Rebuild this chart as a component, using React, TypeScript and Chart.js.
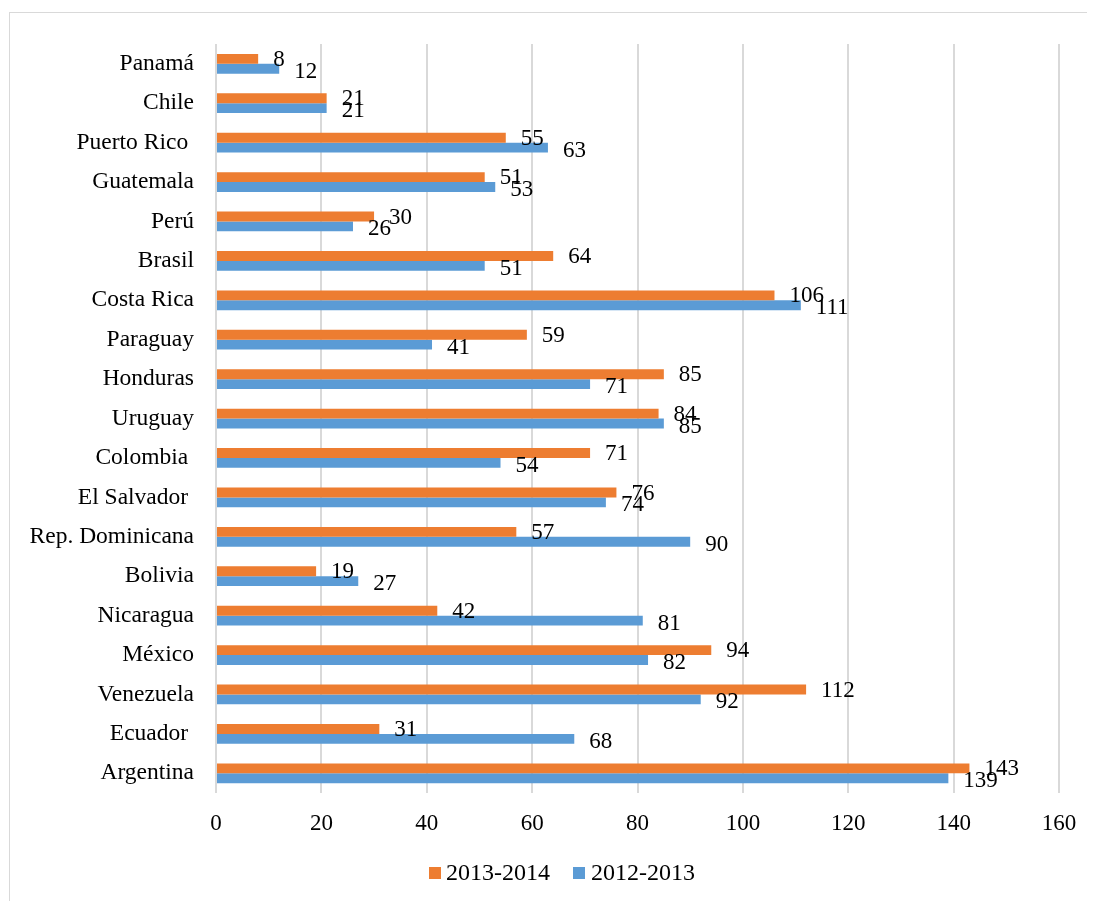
import React, { useEffect, useRef } from "react";
import { Chart, registerables } from "chart.js";

Chart.register(...registerables);

// Countries, top to bottom
const countries = [
  "Panamá",
  "Chile",
  "Puerto Rico ",
  "Guatemala",
  "Perú",
  "Brasil",
  "Costa Rica",
  "Paraguay",
  "Honduras",
  "Uruguay",
  "Colombia ",
  "El Salvador ",
  "Rep. Dominicana",
  "Bolivia",
  "Nicaragua",
  "México",
  "Venezuela",
  "Ecuador ",
  "Argentina",
];

const values2013_2014 = [8, 21, 55, 51, 30, 64, 106, 59, 85, 84, 71, 76, 57, 19, 42, 94, 112, 31, 143];
const values2012_2013 = [12, 21, 63, 53, 26, 51, 111, 41, 71, 85, 54, 74, 90, 27, 81, 82, 92, 68, 139];

const seriesNames = ["2013-2014", "2012-2013"];
const seriesColors = ["#ED7D31", "#5B9BD5"];

const xTicks = [0, 20, 40, 60, 80, 100, 120, 140, 160];

const FONT = '"Liberation Serif", "Times New Roman", serif';

// Writes each bar's value just past its end
const valueLabels = {
  id: "valueLabels",
  afterDatasetsDraw(chart: any) {
    const ctx = chart.ctx;
    ctx.save();
    ctx.font = `23px ${FONT}`;
    ctx.fillStyle = "#000";
    ctx.textAlign = "left";
    ctx.textBaseline = "middle";
    chart.data.datasets.forEach((ds: any, di: number) => {
      const meta = chart.getDatasetMeta(di);
      meta.data.forEach((bar: any, i: number) => {
        const dy = di === 0 ? 1 : 3;
        ctx.fillText(String(ds.data[i]), bar.x + 15, bar.y + dy);
      });
    });
    ctx.restore();
  },
};

export default function App() {
  const canvasRef = useRef<HTMLCanvasElement | null>(null);

  useEffect(() => {
    if (!canvasRef.current) return;
    const chart = new Chart(canvasRef.current, {
      type: "bar",
      data: {
        labels: countries,
        datasets: [
          {
            label: seriesNames[0],
            data: values2013_2014,
            backgroundColor: seriesColors[0],
            categoryPercentage: 0.5,
            barPercentage: 1.0,
          },
          {
            label: seriesNames[1],
            data: values2012_2013,
            backgroundColor: seriesColors[1],
            categoryPercentage: 0.5,
            barPercentage: 1.0,
          },
        ],
      },
      options: {
        indexAxis: "y",
        animation: false,
        responsive: false,
        maintainAspectRatio: false,
        layout: { padding: { left: 0, right: 36, top: 33, bottom: 58 } },
        plugins: {
          legend: { display: false },
          tooltip: { enabled: false },
        },
        scales: {
          x: {
            type: "linear",
            min: 0,
            max: 160,
            afterBuildTicks: (scale: any) => {
              scale.ticks = xTicks.map((v) => ({ value: v }));
            },
            afterFit: (scale: any) => {
              scale.height = 50;
            },
            grid: { color: "#d9d9d9", lineWidth: 2, drawTicks: false },
            border: { display: false },
            ticks: {
              color: "#000",
              padding: 17,
              font: { family: FONT, size: 23 },
            },
          },
          y: {
            type: "category",
            afterFit: (scale: any) => {
              scale.width = 208;
            },
            grid: { display: false, drawTicks: false },
            border: { display: false },
            ticks: {
              color: "#000",
              padding: 22,
              autoSkip: false,
              font: { family: FONT, size: 23.5 },
            },
          },
        },
      },
      plugins: [valueLabels],
    });
    return () => chart.destroy();
  }, []);

  const legendText: React.CSSProperties = {
    position: "absolute",
    top: 848,
    fontFamily: FONT,
    fontSize: 24,
    lineHeight: "32px",
    color: "#000",
    whiteSpace: "nowrap",
  };
  const swatch = (left: number, color: string): React.CSSProperties => ({
    position: "absolute",
    left,
    top: 859,
    width: 12,
    height: 12,
    background: color,
  });

  return (
    <div style={{ position: "relative", width: 1087, height: 893 }}>
      <div
        style={{
          position: "absolute",
          left: 1,
          top: 4,
          width: 1120,
          height: 1000,
          border: "1px solid #d9d9d9",
          boxSizing: "border-box",
        }}
      />
      <canvas
        ref={canvasRef}
        width={1087}
        height={893}
        style={{ position: "absolute", left: 0, top: 0, width: 1087, height: 893 }}
      />
      <div style={swatch(421, seriesColors[0])} />
      <div style={{ ...legendText, left: 438 }}>{seriesNames[0]}</div>
      <div style={swatch(565, seriesColors[1])} />
      <div style={{ ...legendText, left: 583 }}>{seriesNames[1]}</div>
    </div>
  );
}
